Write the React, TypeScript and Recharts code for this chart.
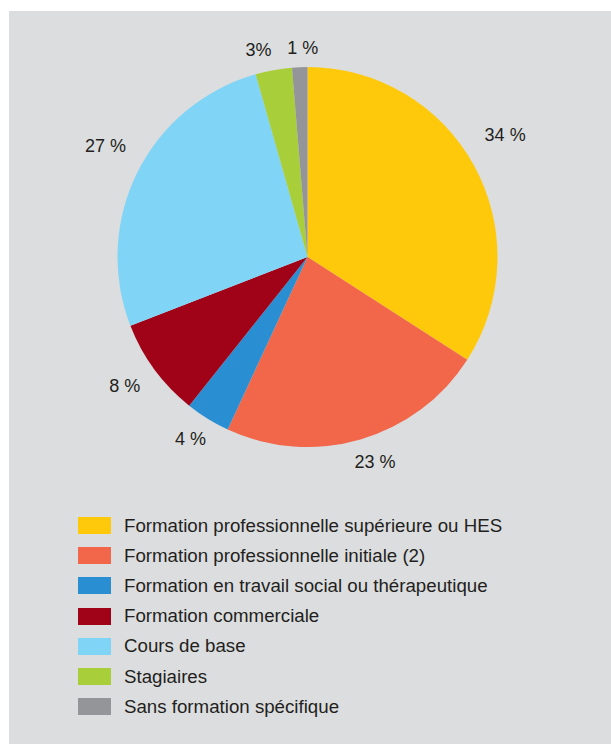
import React from 'react';
import { PieChart, Pie, Cell, Legend } from 'recharts';

// categories, in clockwise order from 12 o'clock
const categories = [
    'Formation professionnelle supérieure ou HES',
    'Formation professionnelle initiale (2)',
    'Formation en travail social ou thérapeutique',
    'Formation commerciale',
    'Cours de base',
    'Stagiaires',
    'Sans formation spécifique',
];
// shares (labels are the rounded figures)
const shares = [34.1, 22.8, 3.8, 8.4, 26.5, 3.1, 1.3];
const sliceLabels = ['34 %', '23 %', '4 %', '8 %', '27 %', '3%', '1 %'];
const colors = ['#FFC90B', '#F2674A', '#2A8FD2', '#A00318', '#80D4F6', '#A8CE3A', '#939598'];

const data = categories.map((name, i) => ({ name, value: shares[i], label: sliceLabels[i] }));

const TEXT = '#231F20';
const FONT = '"Liberation Sans", Arial, sans-serif';

const RAD = Math.PI / 180;

// small hand nudges so the labels sit where the original layout put them
const labelNudge: [number, number][] = [[-3, -13], [7, -3], [-2, -4], [-3, -3], [3, -9], [-11, 2], [4, 2]];

// label sits outside the rim, pushed out a bit more when it is beside the pie
const renderLabel = (props: any) => {
    const { cx, cy, midAngle, outerRadius, index } = props;
    const text = sliceLabels[index];
    const halfW = text.length * 5;
    const s = Math.sin(-midAngle * RAD);
    const c = Math.cos(-midAngle * RAD);
    const r = outerRadius + 21 + Math.abs(c) * halfW;
    const x = cx + r * c + labelNudge[index][0];
    const y = cy + r * s + labelNudge[index][1];
    return (
        <text x={x} y={y} fill={TEXT} fontSize={18} fontFamily={FONT} textAnchor="middle" dominantBaseline="central">
            {text}
        </text>
    );
};

const renderLegend = () => (
    <div style={{ fontFamily: FONT, fontSize: 18.7, color: TEXT }}>
        {categories.map((name, i) => (
            <div key={name} style={{ display: 'flex', alignItems: 'center', height: 30.2 }}>
                <div style={{ width: 33, height: 17, background: colors[i], marginRight: 13 }} />
                <span style={{ whiteSpace: 'nowrap' }}>{name}</span>
            </div>
        ))}
    </div>
);

export default function App() {
    return (
        <div style={{ position: 'absolute', left: 0, top: 0, width: 611, height: 744, background: '#fff' }}>
            <div style={{ position: 'absolute', left: 9, top: 11, width: 602, height: 733, background: '#DCDDDF' }}>
                <PieChart width={602} height={733} margin={{ top: 0, right: 0, bottom: 0, left: 0 }}>
                    <Pie
                        data={data}
                        dataKey="value"
                        nameKey="name"
                        cx={298.5}
                        cy={246}
                        outerRadius={190}
                        startAngle={90}
                        endAngle={-270}
                        stroke="none"
                        label={renderLabel}
                        labelLine={false}
                        isAnimationActive={false}
                    >
                        {data.map((d, i) => (
                            <Cell key={d.name} fill={colors[i]} />
                        ))}
                    </Pie>
                    <Legend
                        content={renderLegend}
                        layout="vertical"
                        wrapperStyle={{ position: 'absolute', left: 69, top: 499.5, width: 520 }}
                    />
                </PieChart>
            </div>
        </div>
    );
}
